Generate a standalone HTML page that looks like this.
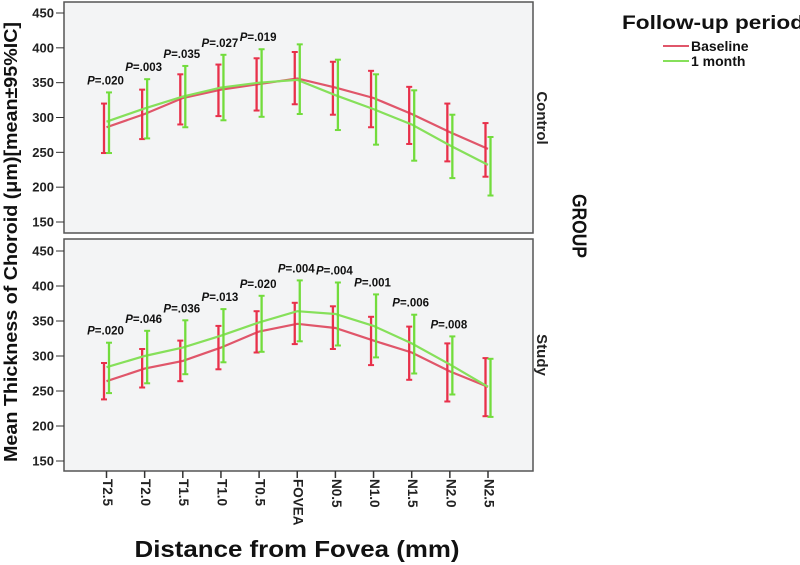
<!DOCTYPE html>
<html><head><meta charset="utf-8"><style>
html,body{margin:0;padding:0;background:#fff;width:800px;height:565px;overflow:hidden}
svg{display:block;font-family:"Liberation Sans",Arial,sans-serif}
</style></head><body>
<svg id="chart" width="800" height="565" xmlns="http://www.w3.org/2000/svg"></svg>
<script>
const categories=["T2.5","T2.0","T1.5","T1.0","T0.5","FOVEA","N0.5","N1.0","N1.5","N2.0","N2.5"];
const yTicks=[150,200,250,300,350,400,450];
const ctrlBaseMean=[286,305,328,340,348,356,343,328,305,279,255];
const ctrlBaseLo=[249,269,290,302,310,319,304,286,262,237,215];
const ctrlBaseHi=[320,340,362,376,385,394,380,367,344,320,292];
const ctrlMonthMean=[294,313,330,343,350,354,332,312,290,260,232];
const ctrlMonthLo=[249,270,286,296,301,305,282,261,238,213,188];
const ctrlMonthHi=[336,355,374,390,398,405,383,362,339,304,272];
const ctrlP=["P=.020","P=.003","P=.035","P=.027","P=.019","","","","","",""];
const studyBaseMean=[264,282,293,312,335,346,340,322,305,278,256];
const studyBaseLo=[238,255,264,281,305,317,310,287,266,235,214];
const studyBaseHi=[290,310,322,343,364,376,371,356,342,318,297];
const studyMonthMean=[284,300,312,329,348,364,360,343,318,288,256];
const studyMonthLo=[247,261,274,291,306,321,315,298,275,245,213];
const studyMonthHi=[319,336,351,367,386,408,405,388,359,328,296];
const studyP=["P=.020","P=.046","P=.036","P=.013","P=.020","P=.004","P=.004","P=.001","P=.006","P=.008",""];

const NS="http://www.w3.org/2000/svg";
const svg=document.getElementById('chart');
function mk(tag,attrs,parent){const e=document.createElementNS(NS,tag);for(const k in attrs)e.setAttribute(k,attrs[k]);(parent||svg).appendChild(e);return e;}
const RED="#e8304a",REDL="#e0566a",GREEN="#72dc3c",GREENL="#86e05a";
const xLeft=64,xRight=533;
function xPos(i){return 106.5+i*38.15;}
const panels=[
 {name:"control",top:2,bottom:233,y450:13,y150:222,label:"Control",ly:118,base:[ctrlBaseMean,ctrlBaseLo,ctrlBaseHi],month:[ctrlMonthMean,ctrlMonthLo,ctrlMonthHi],p:ctrlP},
 {name:"study",top:239,bottom:471,y450:251,y150:461,label:"Study",ly:355,base:[studyBaseMean,studyBaseLo,studyBaseHi],month:[studyMonthMean,studyMonthLo,studyMonthHi],p:studyP}
];
panels.forEach(pn=>{
 const yPos=v=>pn.y150+(v-150)*(pn.y450-pn.y150)/300;
 const g=mk('g',{});
 
 
 const r=mk('rect',{x:xLeft,y:pn.top,width:xRight-xLeft,height:pn.bottom-pn.top,fill:"#f3f4f5",stroke:"#555",'stroke-width':1.5},g);
 
 
 yTicks.forEach(t=>{
  const y=yPos(t);
  mk('line',{x1:56,x2:xLeft,y1:y,y2:y,stroke:"#333",'stroke-width':1},g);
  const tx=mk('text',{x:54,y:y+4.5,'text-anchor':'end','font-size':13,'font-weight':'bold',fill:'#222'},g);
  tx.textContent=t;
  
  
 });
 function series(arr,off,col,lcol,w,nm){
  const [m,lo,hi]=arr;
  const pts=m.map((v,i)=>xPos(i)+","+yPos(v)).join(" ");
  const pl=mk('polyline',{points:pts,fill:'none',stroke:lcol,'stroke-width':2.2},g);
  
  
  m.forEach((v,i)=>{
   const x=xPos(i)+off,y1=yPos(hi[i]),y2=yPos(lo[i]);
   const eg=mk('g',{},g);
   
   
   mk('line',{x1:x,x2:x,y1:y1,y2:y2,stroke:col,'stroke-width':w},eg);
   mk('line',{x1:x-3,x2:x+3,y1:y1,y2:y1,stroke:col,'stroke-width':2},eg);
   mk('line',{x1:x-3,x2:x+3,y1:y2,y2:y2,stroke:col,'stroke-width':2},eg);
  });
 }
 series(pn.base,-2.5,RED,REDL,2.3,'baseline');
 series(pn.month,2.5,GREEN,GREENL,2.3,'one-month');
 pn.p.forEach((s,i)=>{
  if(!s)return;
  const y=yPos(pn.month[2][i])-8;
  const t=mk('text',{x:xPos(i)-1,y:y,'text-anchor':'middle','font-size':11.5,'font-weight':'bold',fill:'#111'},g);
  const ti=mk('tspan',{'font-style':'italic'},t);ti.textContent="P";
  const tr=mk('tspan',{},t);tr.textContent=s.slice(1);
  
  
 });
 const lb=mk('text',{x:541,y:pn.ly,'text-anchor':'middle','font-size':15,'font-weight':'bold',fill:'#222',transform:`rotate(90 541 ${pn.ly})`,'dominant-baseline':'middle'});
 lb.textContent=pn.label;
 
 
});
categories.forEach((c,i)=>{
 const x=xPos(i);
 mk('line',{x1:x,x2:x,y1:471,y2:478,stroke:'#333','stroke-width':1.5});
 const t=mk('text',{x:x,y:479,'font-size':13.5,'font-weight':'bold',fill:'#222',transform:`rotate(90 ${x} 479)`,'dominant-baseline':'middle'});
 t.textContent=c;
 
 
});
const xt=mk('text',{x:297,y:557,'text-anchor':'middle','font-size':23,'font-weight':'bold',fill:'#111',textLength:325,lengthAdjust:'spacingAndGlyphs'});
xt.textContent="Distance from Fovea (mm)";


const yt=mk('text',{x:12,y:242,'text-anchor':'middle','font-size':18,'font-weight':'bold',fill:'#111',transform:'rotate(-90 12 242)','dominant-baseline':'middle',textLength:440,lengthAdjust:'spacingAndGlyphs'});
yt.textContent="Mean Thickness of Choroid (μm)[mean±95%IC]";


const gt=mk('text',{x:578,y:226,'text-anchor':'middle','font-size':20,'font-weight':'bold',fill:'#111',transform:'rotate(90 578 226)','dominant-baseline':'middle',textLength:64,lengthAdjust:'spacingAndGlyphs'});
gt.textContent="GROUP";


const lg=mk('g',{});


const lt=mk('text',{x:622,y:29,'font-size':19,'font-weight':'bold',fill:'#111',textLength:182,lengthAdjust:'spacingAndGlyphs'},lg);
lt.textContent="Follow-up period";


[["Baseline",REDL,46],["1 month",GREENL,61]].forEach(([n,c,y])=>{
 const e=mk('g',{},lg);
 
 
 mk('line',{x1:663,x2:689,y1:y,y2:y,stroke:c,'stroke-width':2},e);
 const t=mk('text',{x:691,y:y+5,'font-size':14,'font-weight':'bold',fill:'#111'},e);
 t.textContent=n;
});
</script>
</body></html>
